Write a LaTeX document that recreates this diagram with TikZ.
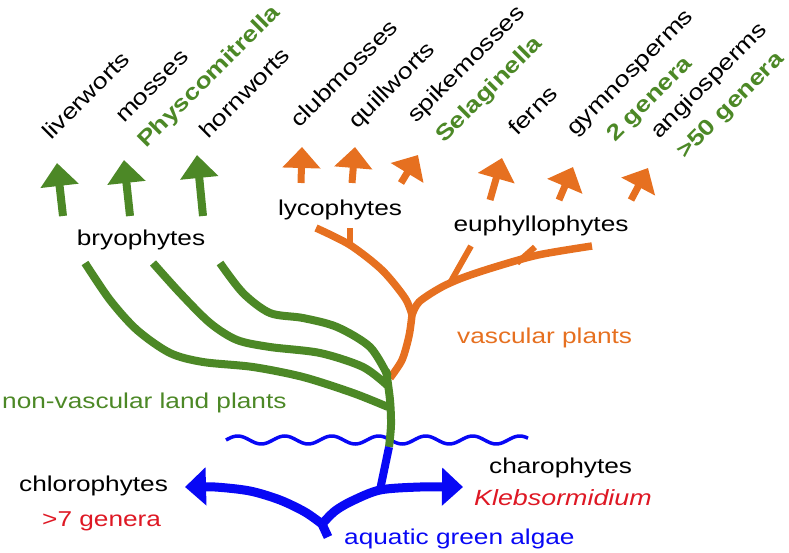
\documentclass[tikz,border=0pt]{standalone}
\usepackage{fontspec}
\setmainfont{Liberation Sans}[FakeStretch=1.22]
\usetikzlibrary{arrows.meta}
\definecolor{pgreen}{RGB}{76,136,38}
\definecolor{porange}{RGB}{230,112,32}
\definecolor{pblue}{RGB}{8,8,245}
\definecolor{pred}{RGB}{222,24,36}
\begin{document}
\begin{tikzpicture}[x=1pt,y=-1pt,
  lbl/.style={inner sep=0pt, font=\fontsize{21.5pt}{25pt}\selectfont},
  toplbl/.style={inner sep=0pt, font=\fontsize{22pt}{26pt}\selectfont, anchor=base west, rotate=45},
  gbold/.style={text=pgreen, font=\fontsize{22pt}{26pt}\selectfont\bfseries},
  greenline/.style={draw=pgreen, line width=8pt},
  orangeline/.style={draw=porange, line width=7.5pt},
  thinorange/.style={draw=porange, line width=6pt},
  blueline/.style={draw=pblue, line width=9pt},
  gtip/.style={-{Triangle[width=37pt,length=23pt]}},
  otip/.style={-{Triangle[width=37pt,length=21pt]}},
  btip/.style={-{Triangle[width=37pt,length=21pt]}}
]
\useasboundingbox (0,0) rectangle (789,553);

% ---------- key points ----------
\coordinate (trunkTop) at (386,370);
\coordinate (trunkBot) at (389,447);
\coordinate (split) at (412,315);
\coordinate (lycoStub) at (350,245);
\coordinate (algaeJ) at (380,490);
\coordinate (algaeY) at (322,524);
\coordinate (algaeStub) at (328,537);
\coordinate (lTip) at (185,487);
\coordinate (rTip) at (463,487);

% ---------- water line ----------
\draw[pblue, line width=3.5pt] plot[domain=226:528, samples=160, smooth]
  (\x, {440 - 4*sin((\x-226)/47*360)});

% ---------- orange (vascular) ----------
\draw[orangeline] plot[smooth] coordinates {(390,378) (402,360) (409,336) (split)};
\draw[orangeline] plot[smooth] coordinates {(split) (405,298) (382,270) (lycoStub) (316,228)};
\draw[thinorange] (lycoStub) -- (350,228);
\draw[orangeline] plot[smooth] coordinates {(split) (419,302) (440,288) (462,278) (495,267) (538,255) (592,246)};
\draw[thinorange] (450,283) -- (471,246);
\draw[thinorange] (517,263) -- (535,247);

% orange arrows
\draw[orangeline, line width=7pt, otip] (301,183) -- (302,147);
\draw[orangeline, line width=7pt, otip] (352,183) -- (355,147);
\draw[orangeline, line width=7pt, otip] (401,183) -- (418,155);
\draw[orangeline, line width=7pt, otip] (490,200) -- (502,158);
\draw[orangeline, line width=7pt, otip] (559,200) -- (573,167);
\draw[orangeline, line width=7pt, otip] (631,200) -- (648,168);

% ---------- green (bryophytes) ----------
\draw[greenline] plot[smooth] coordinates {(85,263) (110,300) (137,330) (170,353) (203,362) (253,367) (303,377) (353,393) (388,407)};
\draw[greenline] plot[smooth] coordinates {(153,263) (180,293) (210,323) (237,340) (270,347) (320,353) (363,367) (388,386)};
\draw[greenline] plot[smooth] coordinates {(220,263) (243,293) (270,313) (303,318) (337,327) (370,347) (388,376)};
\draw[greenline] plot[smooth] coordinates {(trunkTop) (390,400) (391,425) (trunkBot)};

\draw[greenline, gtip] (63,216) -- (57,163);
\draw[greenline, gtip] (130,216) -- (124,160);
\draw[greenline, gtip] (203,216) -- (197,155);

% ---------- blue (algae) ----------
\draw[blueline, line width=8pt] (trunkBot) -- (algaeJ);
\draw[blueline, btip] plot[smooth] coordinates {(algaeY) (305,512) (280,500) (250,491) (215,487) (lTip)};
\draw[blueline, btip] plot[smooth] coordinates {(algaeY) (335,511) (352,501) (algaeJ) (420,487) (rTip)};
\draw[blueline] (algaeY) -- (algaeStub);

% ---------- horizontal labels ----------
\node[lbl] (bryo) at (141,240) {bryophytes};
\node[lbl] (lyco) at (340,210) {lycophytes};
\node[lbl] (euphyl) at (541,226) {euphyllophytes};
\node[lbl, anchor=base west, text=porange] (vasc) at (457,343) {vascular plants};
\node[lbl, anchor=base west, text=pgreen] (nonvasc) at (2,408) {non-vascular land plants};
\node[lbl, anchor=base west] (chloro) at (19,491) {chlorophytes};
\node[lbl, anchor=base west, text=pred] (chlorogen) at (42,526) {>7 genera};
\node[lbl, anchor=base west] (charo) at (489,473) {charophytes};
\node[lbl, anchor=base west, text=pred, font=\fontsize{22pt}{26pt}\selectfont\itshape] (klebs) at (474,505) {Klebsormidium};
\node[lbl, anchor=base west, text=pblue] (algae) at (344,544) {aquatic green algae};

% ---------- rotated labels ----------
\node[toplbl] (liver) at (51,141) {liverworts};
\node[toplbl] (moss) at (124,124) {mosses};
\node[toplbl, gbold] (physco) at (146,149) {Physcomitrella};
\node[toplbl] (horn) at (208,140) {hornworts};
\node[toplbl] (club) at (299,129) {clubmosses};
\node[toplbl] (quill) at (357,130) {quillworts};
\node[toplbl] (spike) at (416,124) {spikemosses};
\node[toplbl, gbold] (selag) at (444,144) {Selaginella};
\node[toplbl] (fern) at (517,137) {ferns};
\node[toplbl] (gymno) at (575,137) {gymnosperms};
\node[toplbl, gbold] (gymnogen) at (615,143) {2 genera};
\node[toplbl] (angio) at (659,140) {angiosperms};
\node[toplbl, gbold] (angiogen) at (685,160) {>50 genera};
\end{tikzpicture}
\end{document}
